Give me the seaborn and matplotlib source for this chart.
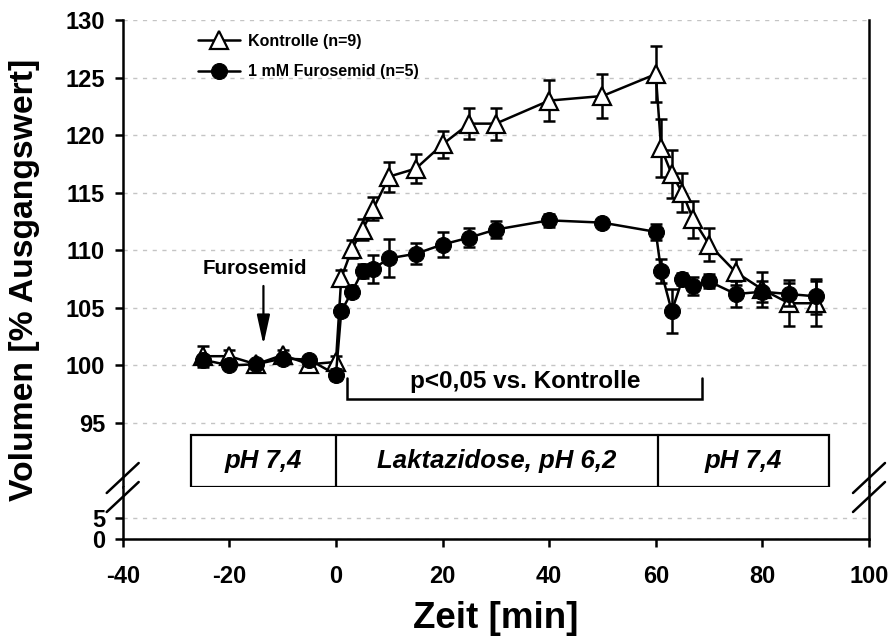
import numpy as np
import pandas as pd
import seaborn as sns
import matplotlib.pyplot as plt
from matplotlib.lines import Line2D
from matplotlib.patches import Rectangle
import matplotlib.transforms as mtransforms

# --- data ---
time = [-25, -20, -15, -10, -5, 0, 1, 3, 5, 7, 10, 15, 20, 25, 30, 40, 50, 60,
        61, 63, 65, 67, 70, 75, 80, 85, 90]
kontrolle = [100.8, 100.8, 100.1, 100.9, 100.1, 100.3, 107.6, 110.1, 111.8, 113.6,
             116.4, 117.1, 119.2, 121.0, 121.0, 123.0, 123.4, 125.3,
             118.9, 116.6, 115.0, 112.7, 110.5, 108.1, 106.6, 105.4, 105.4]
kontrolle_err = [0.9, 0.5, 0.4, 0.4, 0.4, 0.5, 0.7, 0.8, 0.9, 1.0, 1.3, 1.25, 1.2,
                 1.35, 1.4, 1.8, 1.95, 2.4, 2.5, 2.1, 1.7, 1.6, 1.45, 1.1, 1.55,
                 2.0, 1.95]
furosemid = [100.5, 100.0, 100.1, 100.6, 100.5, 99.2, 104.7, 106.4, 108.2, 108.4,
             109.3, 109.7, 110.5, 111.1, 111.8, 112.6, 112.4, 111.6,
             108.2, 104.7, 107.5, 106.9, 107.3, 106.2, 106.4, 106.2, 106.0]
furosemid_err = [0.4, 0.3, 0.3, 0.3, 0.3, 0.5, 0.4, 0.5, 0.6, 1.2, 1.65, 0.9, 1.1,
                 0.8, 0.7, 0.55, 0.3, 0.7, 1.0, 1.9, 0.5, 0.8, 0.6, 1.15, 0.9,
                 1.0, 1.5]

series_labels = ['Kontrolle (n=9)', '1 mM Furosemid (n=5)']
x_ticks = [-40, -20, 0, 20, 40, 60, 80, 100]
y_ticks_top = [95, 100, 105, 110, 115, 120, 125, 130]
y_ticks_bottom = [0, 5]
phase_edges = [-27.2, 0, 60.5, 92.5]
phase_labels = ['pH 7,4', 'Laktazidose, pH 6,2', 'pH 7,4']

df = pd.DataFrame({'Zeit': time, 'Kontrolle': kontrolle, 'Furosemid': furosemid})

sns.set_style('ticks')
plt.rcParams['font.family'] = ['Liberation Sans', 'DejaVu Sans']
plt.rcParams['font.weight'] = 'bold'
plt.rcParams['axes.linewidth'] = 1.8
plt.rcParams['axes.unicode_minus'] = False
for key in ('text.color', 'axes.labelcolor', 'xtick.color', 'ytick.color',
            'axes.edgecolor'):
    plt.rcParams[key] = 'black'

W, H = 891, 644
left, right = 122.7, 869
top_px, brk_px, bot_px = 20, 487, 539.3
top_scale = 11.514   # px per unit, upper part
bot_scale = 4.32     # px per unit, lower part

fig = plt.figure(figsize=(W / 100, H / 100), dpi=100)
ax = fig.add_axes([left / W, 1 - brk_px / H, (right - left) / W, (brk_px - top_px) / H])
ax2 = fig.add_axes([left / W, 1 - bot_px / H, (right - left) / W, (bot_px - brk_px) / H],
                   sharex=ax)

# error bars then lines/markers
ax.errorbar(time, kontrolle, yerr=kontrolle_err, fmt='none', ecolor='black',
            elinewidth=1.8, capsize=4.5, capthick=1.8, zorder=2)
sns.lineplot(data=df, x='Zeit', y='Kontrolle', ax=ax, color='black', lw=1.8,
             marker='^', markersize=12.5, markerfacecolor='white',
             markeredgecolor='black', markeredgewidth=1.6, errorbar=None,
             label=series_labels[0], zorder=3)
ax.errorbar(time, furosemid, yerr=furosemid_err, fmt='none', ecolor='black',
            elinewidth=1.8, capsize=4.5, capthick=1.8, zorder=4)
sns.lineplot(data=df, x='Zeit', y='Furosemid', ax=ax, color='black', lw=1.8,
             marker='o', markersize=11.5, markerfacecolor='black',
             markeredgecolor='black', errorbar=None,
             label=series_labels[1], zorder=5)

ax.set_xlim(-40, 100)
ax.set_ylim(130 - (brk_px - top_px) / top_scale, 130)
ax2.set_ylim(0, (bot_px - brk_px) / bot_scale)
ax.set_yticks(y_ticks_top)
ax2.set_yticks(y_ticks_bottom)
ax2.set_xticks(x_ticks)
ax.set_xlabel('')
ax.set_ylabel('')
ax2.set_xlabel('')

grid_kw = dict(color='#c4c4c4', linestyle=(0, (3, 4)), linewidth=1.0)
ax.yaxis.grid(True, **grid_kw)
ax2.yaxis.grid(True, **grid_kw)
ax.set_axisbelow(True)
ax2.set_axisbelow(True)

ax.spines['top'].set_visible(False)
ax.spines['bottom'].set_visible(False)
ax2.spines['top'].set_visible(False)
for a in (ax, ax2):
    a.spines['right'].set_visible(True)
    a.tick_params(axis='y', direction='out', length=5.8, width=1.8, labelsize=17, pad=7,
                  right=False, colors='black')
ax.tick_params(axis='x', bottom=False, labelbottom=False)
ax2.tick_params(axis='x', direction='out', length=5.8, width=1.8, labelsize=17, pad=13,
                colors='black')
for lab in ax.get_yticklabels() + ax2.get_yticklabels() + ax2.get_xticklabels():
    lab.set_fontweight('bold')

# legend
ax.legend(loc='upper left', bbox_to_anchor=(198 / W, 1 - 34 / H),
          bbox_transform=fig.transFigure, frameon=False,
          handlelength=2.6, handletextpad=0.5, borderpad=0, borderaxespad=0,
          labelspacing=0.95, prop={'weight': 'bold', 'size': 11.5})

# phase box
trans = mtransforms.blended_transform_factory(ax.transData, ax.transAxes)
box_h = (brk_px - 435) / (brk_px - top_px)
ax.add_patch(Rectangle((phase_edges[0], 0), phase_edges[-1] - phase_edges[0], box_h,
                       transform=trans, fill=False, edgecolor='black', lw=1.6,
                       clip_on=False, zorder=6))
for xd in phase_edges[1:-1]:
    ax.plot([xd, xd], [0, box_h], transform=trans, color='black', lw=1.6,
            clip_on=False, zorder=6)
for i, lab in enumerate(phase_labels):
    xc = (phase_edges[i] + phase_edges[i + 1]) / 2
    ax.text(xc, box_h / 2, lab, transform=trans, ha='center', va='center',
            fontsize=18.5, fontweight='bold', fontstyle='italic')

# significance bracket
ax.plot([2.1, 2.1, 68.7, 68.7], [98.9, 97.07, 97.07, 98.9], color='black', lw=1.8,
        solid_joinstyle='miter')
ax.text(35.6, 98.6, 'p<0,05 vs. Kontrolle', ha='center', va='center', fontsize=17.5,
        fontweight='bold')

# Furosemid arrow
ax.text(-15.2, 108.4, 'Furosemid', ha='center', va='center', fontsize=14.8,
        fontweight='bold')
ax.annotate('', xy=(-13.6, 101.8), xytext=(-13.6, 106.9),
            arrowprops=dict(arrowstyle='-|>,head_length=1.0,head_width=0.22',
                            color='black', lw=1.6, mutation_scale=18,
                            shrinkA=0, shrinkB=0))

# axis break marks
for xs in (left, right):
    for dy in (0, 19):
        fig.add_artist(Line2D([(xs - 16) / W, (xs + 16) / W],
                              [1 - (493 + dy) / H, 1 - (463 + dy) / H],
                              transform=fig.transFigure, color='black', lw=1.8))

fig.text(25 / W, 1 - 280 / H, 'Volumen [% Ausgangswert]', rotation=90,
         ha='center', va='center', fontsize=24.3, fontweight='bold')
fig.text((left + right) / 2 / W, 1 - 619 / H, 'Zeit [min]', ha='center',
         va='center', fontsize=26.5, fontweight='bold')

fig.savefig('out.png', dpi=100)
